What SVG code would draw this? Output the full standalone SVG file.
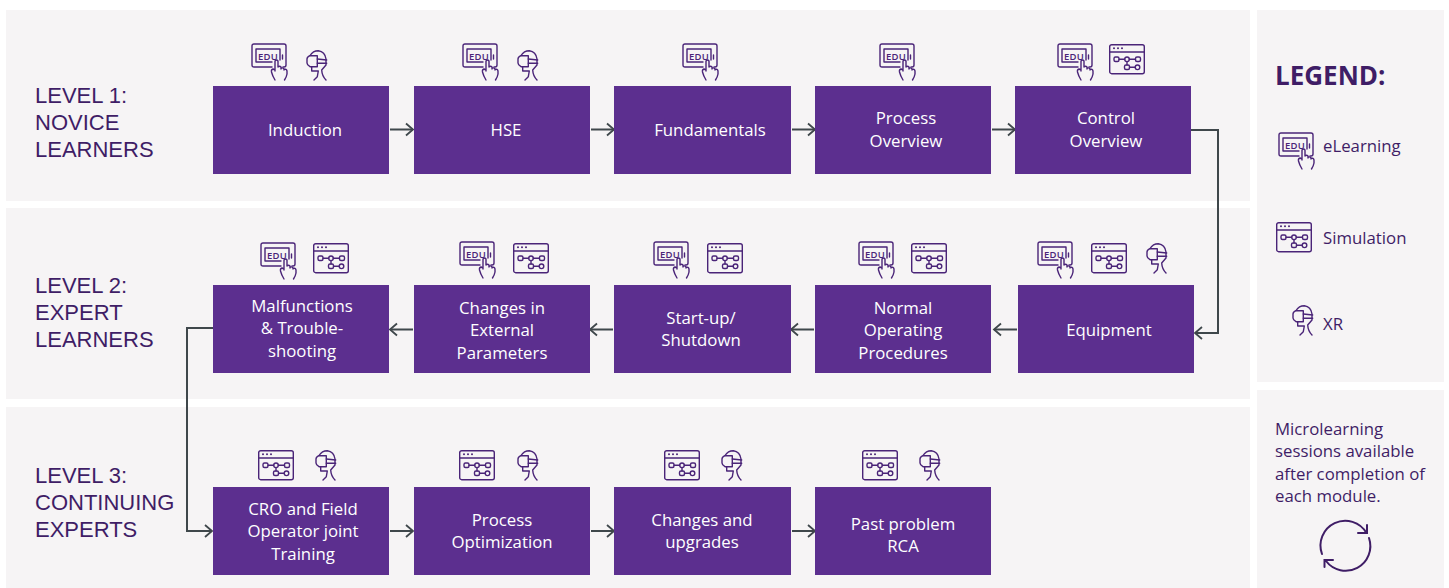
<svg xmlns="http://www.w3.org/2000/svg" width="1449" height="588" viewBox="0 0 1449 588">
<style>
text{font-family:"Open Sans","Noto Sans","Liberation Sans",sans-serif}
.panel{fill:#f6f4f5}
.box{fill:#5c2f8f}
.bt{fill:#fff;font-size:16.8px;text-anchor:middle}
text.lv{fill:#3f1d66;font-size:22px;font-family:"Liberation Sans",Arial,sans-serif}
.lg{fill:#3f1d66;font-size:16.8px}
.ic{fill:none;stroke:#4a2478;stroke-width:1.4;stroke-linecap:round;stroke-linejoin:round}
.it{fill:#4a2478;font-size:9.5px;font-weight:600;letter-spacing:.3px}
.dot{fill:#4a2478}
.con{fill:none;stroke:#3f474b;stroke-width:2}
</style>
<defs>
<marker id="ah" markerUnits="userSpaceOnUse" markerWidth="14" markerHeight="16" refX="11" refY="7" orient="auto" viewBox="0 0 14 14"><path d="M4 1L11 7L4 13" fill="none" stroke="#3f474b" stroke-width="1.8"/></marker>
<symbol id="edu" overflow="visible" viewBox="0 0 37 37" width="37" height="37">
<path class="ic" d="M21 23H3Q1 23 1 21V2Q1 0 3 0H33Q35 0 35 2V21Q35 23 33 23H32"/>
<path class="ic" d="M21 18H5V5H29V16"/>
<text class="it" x="7" y="15.500">EDU</text>
<path class="ic" d="M31.500 11v4"/>
<path class="ic" d="M24 27V17Q25.500 15 27 17V23M27 23Q28.500 21.500 30 23V25M30 24.500Q31.500 23 33 25V26M33 25.500Q35.500 24.500 36 27V30Q35.500 33 33.500 36M24 26L22 25Q20 25.500 20.500 28Q21.500 32 24 36"/>
</symbol>
<symbol id="sim" overflow="visible" viewBox="0 0 36 31" width="36" height="31">
<rect class="ic" x=".7" y=".7" width="34.600" height="29" rx="2"/>
<path class="ic" d="M.7 8H35.300"/>
<circle class="dot" cx="5" cy="4.300" r="1"/><circle class="dot" cx="9" cy="4.300" r="1"/><circle class="dot" cx="13" cy="4.300" r="1"/>
<rect class="ic" x="5" y="13" width="5" height="4.500" rx="1.500"/>
<rect class="ic" x="26.500" y="13" width="5" height="4.500" rx="1.500"/>
<circle class="ic" cx="18" cy="15.300" r="2.300"/>
<path class="ic" d="M10 15.300H15.700M20.300 15.300H26.500M18 17.600V21"/>
<rect class="ic" x="15.500" y="21" width="5" height="4.500" rx="1.500"/>
<circle class="ic" cx="28.500" cy="23.300" r="2.300"/>
<path class="ic" d="M20.500 23.300H26.200"/>
</symbol>
<symbol id="xr" overflow="visible" viewBox="0 0 24 31" width="24" height="31">
<path class="ic" d="M5 5.500Q8 .7 13.300 .7Q20 1.500 21 9V15L16.700 20Q17 26 21 30"/>
<path class="ic" d="M5 5.700H12.300V16.700H5Q2 15 2 13V9Q2 7 5 5.700Z"/>
<path class="ic" d="M12.300 9L21.700 10M12.300 13.300H21.700"/>
<path class="ic" d="M6.700 16.700V21H13.300L12.300 26.700L9 30"/>
</symbol>
</defs>
<rect width="1449" height="588" fill="#fff"/>
<rect class="panel" x="6" y="10" width="1244" height="191"/>
<rect class="panel" x="6" y="208" width="1244" height="191"/>
<rect class="panel" x="6" y="407" width="1244" height="181"/>
<rect class="panel" x="1257" y="10" width="187" height="372"/>
<rect class="panel" x="1257" y="390" width="187" height="198"/>

<text class="lv" x="35" y="103">LEVEL 1:</text><text class="lv" x="35" y="130">NOVICE</text><text class="lv" x="35" y="157">LEARNERS</text>
<text class="lv" x="35" y="293">LEVEL 2:</text><text class="lv" x="35" y="320">EXPERT</text><text class="lv" x="35" y="347">LEARNERS</text>
<text class="lv" x="35" y="483">LEVEL 3:</text><text class="lv" x="35" y="510">CONTINUING</text><text class="lv" x="35" y="537">EXPERTS</text>

<g id="connectors">
<path class="con" marker-end="url(#ah)" d="M390 129.500H413"/>
<path class="con" marker-end="url(#ah)" d="M591 129.500H614"/>
<path class="con" marker-end="url(#ah)" d="M792 129.500H815"/>
<path class="con" marker-end="url(#ah)" d="M992 129.500H1015"/>
<path class="con" marker-end="url(#ah)" d="M1191 130H1218V333H1195"/>
<path class="con" marker-end="url(#ah)" d="M1017 329.500H994"/>
<path class="con" marker-end="url(#ah)" d="M814 329.500H791"/>
<path class="con" marker-end="url(#ah)" d="M613 329.500H590"/>
<path class="con" marker-end="url(#ah)" d="M413 329.500H390"/>
<path class="con" marker-end="url(#ah)" d="M213 328H187V531H212"/>
<path class="con" marker-end="url(#ah)" d="M390 531H413"/>
<path class="con" marker-end="url(#ah)" d="M591 531H614"/>
<path class="con" marker-end="url(#ah)" d="M792 531H815"/>
</g>

<g id="n-induction"><rect class="box" x="213" y="86" width="176" height="88"/><text class="bt" x="305" y="135.500">Induction</text><use href="#edu" x="251" y="44"/><use href="#xr" x="305" y="50"/></g>
<g id="n-hse"><rect class="box" x="414" y="86" width="176" height="88"/><text class="bt" x="506" y="135.500">HSE</text><use href="#edu" x="462" y="44"/><use href="#xr" x="516" y="50"/></g>
<g id="n-fundamentals"><rect class="box" x="614" y="86" width="177" height="88"/><text class="bt" x="710" y="135.500">Fundamentals</text><use href="#edu" x="682" y="44"/></g>
<g id="n-process"><rect class="box" x="815" y="86" width="176" height="88"/><text class="bt" x="906" y="124">Process</text><text class="bt" x="906" y="146.500">Overview</text><use href="#edu" x="879" y="44"/></g>
<g id="n-control"><rect class="box" x="1015" y="86" width="176" height="88"/><text class="bt" x="1106" y="124">Control</text><text class="bt" x="1106" y="146.500">Overview</text><use href="#edu" x="1057" y="44"/><use href="#sim" x="1109" y="44"/></g>

<g id="n-equipment"><rect class="box" x="1018" y="285" width="176" height="88"/><text class="bt" x="1109" y="336">Equipment</text><use href="#edu" x="1037" y="242"/><use href="#sim" x="1091" y="243"/><use href="#xr" x="1145" y="243"/></g>
<g id="n-normal"><rect class="box" x="815" y="285" width="176" height="88"/><text class="bt" x="903" y="314">Normal</text><text class="bt" x="903" y="336">Operating</text><text class="bt" x="903" y="359">Procedures</text><use href="#edu" x="858" y="242"/><use href="#sim" x="911" y="243"/></g>
<g id="n-startup"><rect class="box" x="614" y="285" width="177" height="88"/><text class="bt" x="701" y="324">Start-up/</text><text class="bt" x="701" y="346">Shutdown</text><use href="#edu" x="653" y="242"/><use href="#sim" x="707" y="243"/></g>
<g id="n-changes"><rect class="box" x="414" y="285" width="176" height="88"/><text class="bt" x="502" y="314">Changes in</text><text class="bt" x="502" y="336">External</text><text class="bt" x="502" y="359">Parameters</text><use href="#edu" x="459" y="242"/><use href="#sim" x="513" y="243"/></g>
<g id="n-malfunctions"><rect class="box" x="213" y="285" width="176" height="88"/><text class="bt" x="302" y="312">Malfunctions</text><text class="bt" x="302" y="334">&amp; Trouble-</text><text class="bt" x="302" y="357">shooting</text><use href="#edu" x="260" y="243"/><use href="#sim" x="313" y="243"/></g>

<g id="n-cro"><rect class="box" x="213" y="487" width="176" height="88"/><text class="bt" x="303" y="515">CRO and Field</text><text class="bt" x="303" y="537">Operator joint</text><text class="bt" x="303" y="560">Training</text><use href="#sim" x="258" y="450"/><use href="#xr" x="314" y="450"/></g>
<g id="n-optimization"><rect class="box" x="414" y="487" width="176" height="88"/><text class="bt" x="502" y="526">Process</text><text class="bt" x="502" y="548">Optimization</text><use href="#sim" x="459" y="450"/><use href="#xr" x="516" y="450"/></g>
<g id="n-upgrades"><rect class="box" x="614" y="487" width="177" height="88"/><text class="bt" x="702" y="526">Changes and</text><text class="bt" x="702" y="548">upgrades</text><use href="#sim" x="664" y="450"/><use href="#xr" x="720" y="450"/></g>
<g id="n-rca"><rect class="box" x="815" y="487" width="176" height="88"/><text class="bt" x="903" y="530">Past problem</text><text class="bt" x="903" y="552">RCA</text><use href="#sim" x="862" y="450"/><use href="#xr" x="918" y="450"/></g>

<g id="legend">
<text x="1275" y="85" fill="#3f1d66" font-size="26" font-weight="700">LEGEND:</text>
<use href="#edu" x="1278" y="133"/><text class="lg" x="1323" y="152">eLearning</text>
<use href="#sim" x="1276" y="222"/><text class="lg" x="1323" y="244">Simulation</text>
<use href="#xr" x="1291" y="305"/><text class="lg" x="1323" y="330">XR</text>
</g>
<g id="micro">
<text class="lg" x="1275" y="435">Microlearning</text>
<text class="lg" x="1275" y="457">sessions available</text>
<text class="lg" x="1275" y="480">after completion of</text>
<text class="lg" x="1275" y="502">each module.</text>
<path fill="none" stroke="#3f1d66" stroke-width="2" stroke-linecap="round" d="M1322 554A24.700 24.700 0 0 1 1366.500 533M1367 525V533H1358M1369 538A24.700 24.700 0 0 1 1326 561M1324.500 567V560H1333"/>
</g>
</svg>
